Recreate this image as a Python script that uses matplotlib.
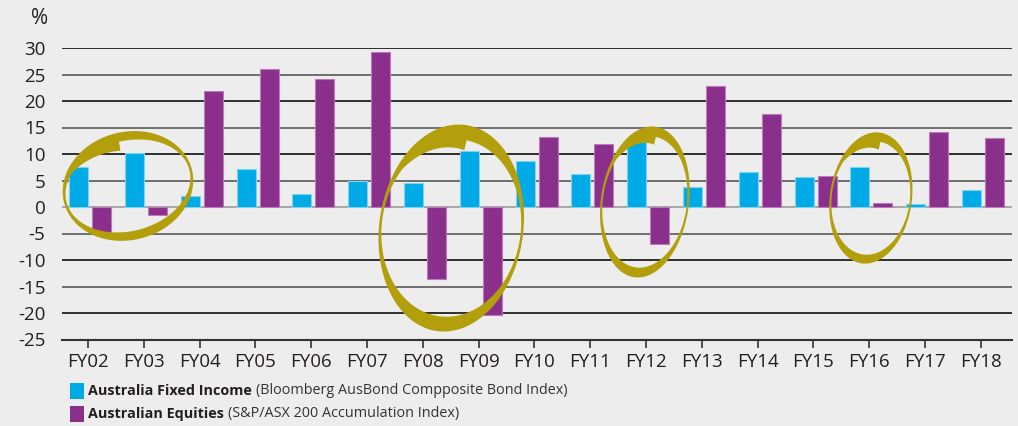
import numpy as np
import matplotlib
matplotlib.use('Agg')
import matplotlib.pyplot as plt
from matplotlib.patches import Rectangle, PathPatch
from matplotlib.path import Path
from matplotlib.transforms import IdentityTransform

plt.rcParams['font.family'] = ['Open Sans', 'DejaVu Sans']
plt.rcParams['axes.unicode_minus'] = False

years = ['FY02', 'FY03', 'FY04', 'FY05', 'FY06', 'FY07', 'FY08', 'FY09', 'FY10',
         'FY11', 'FY12', 'FY13', 'FY14', 'FY15', 'FY16', 'FY17', 'FY18']
fixed_income = [7.6, 10.1, 2.1, 7.2, 2.45, 4.95, 4.5, 10.6, 8.6,
                6.2, 12.2, 3.8, 6.6, 5.7, 7.6, 0.6, 3.2]
equities = [-4.7, -1.6, 21.9, 26.1, 24.1, 29.2, -13.5, -20.3, 13.3,
            11.8, -6.9, 22.8, 17.6, 5.8, 0.7, 14.2, 13.1]
yticks = list(range(-25, 31, 5))

legend_bold = ['Australia Fixed Income', 'Australian Equities']
legend_rest = ['(Bloomberg AusBond Compposite Bond Index)', '(S&P/ASX 200 Accumulation Index)']

blue = '#00aae6'
purple = '#8b2f8d'
gold = '#b39f0c'
bg = '#ededed'
txt = '#231f20'

W, H = 1018, 426
fig = plt.figure(figsize=(W / 100, H / 100), dpi=100, facecolor=bg)
ax = fig.add_axes([62 / W, 1 - 339.5 / H, 950 / W, 291.5 / H])
ax.set_facecolor(bg)

x = np.arange(len(years))
ax.bar(x - 0.165, fixed_income, 0.34, color=blue, edgecolor='#7fd3f2', linewidth=0.8, zorder=3)
ax.bar(x + 0.245, equities, 0.34, color=purple, edgecolor='#b77bb8', linewidth=0.8, zorder=3)

ax.set_xlim(-0.466, 16.56)
ax.set_ylim(-25, 30)
for v in yticks:
    if v == -25:
        continue
    if v == 0:
        c = '#a8a8a8'
    elif v % 10 == 0:
        c = '#2e2e2e'
    else:
        c = '#6e6e6e'
    ax.axhline(v, color=c, lw=1.4, zorder=1)

for s in ['top', 'left', 'right']:
    ax.spines[s].set_visible(False)
ax.spines['bottom'].set_color('#333333')
ax.spines['bottom'].set_linewidth(1.5)

ax.set_yticks(yticks)
ax.set_yticklabels([str(v) for v in yticks])
ax.set_xticks(x)
ax.set_xticklabels(years)
ax.tick_params(axis='y', length=0, pad=12, labelsize=13.5, labelcolor=txt)
ax.tick_params(axis='x', length=6, width=1.2, color='#333333', pad=4, labelsize=13.5, labelcolor=txt)

fig.text(40 / W, 1 - 19 / H, '%', ha='center', va='center', fontsize=15, color=txt)


def brush_ellipse(cx, cy, a, b, ang, wt, ws, tab):
    # hand-drawn looking ring: thick top/bottom, thin sides, brush start at top-left
    px, py = ax.transData.transform((cx, cy))
    t = np.linspace(0, 2 * np.pi, 721)
    deg = np.degrees(t)
    extra = np.where((deg >= 88) & (deg <= 145), tab * (145 - deg) / 57, 0)
    ox, oy = a * np.cos(t), b * np.sin(t)
    ix = (a - ws - extra) * np.cos(t)
    iy = (b - wt - extra) * np.sin(t)
    r = np.radians(ang)
    def rot(u, v):
        return u * np.cos(r) - v * np.sin(r) + px, u * np.sin(r) + v * np.cos(r) + py
    oX, oY = rot(ox, oy)
    iX, iY = rot(ix[::-1], iy[::-1])
    verts = np.concatenate([np.c_[oX, oY], [[oX[0], oY[0]]], np.c_[iX, iY], [[iX[0], iY[0]]]])
    n = len(oX)
    codes = ([Path.MOVETO] + [Path.LINETO] * (n - 1) + [Path.CLOSEPOLY]) * 2
    patch = PathPatch(Path(verts, codes), facecolor=gold, edgecolor='none',
                      transform=IdentityTransform(), zorder=5, clip_on=False)
    fig.add_artist(patch)


brush_ellipse(0.716, 3.97, 66, 54, 15, 9, 2.5, 9)
brush_ellipse(6.51, -3.97, 72, 104, -8, 15, 2.5, 10)
brush_ellipse(9.98, 0.95, 44, 76, -8, 10, 2, 8)
brush_ellipse(14.03, 1.70, 41, 66, -8, 9, 2, 8)

# legend
renderer = fig.canvas.get_renderer()
rows_y = [391, 414]
for i, c in enumerate([blue, purple]):
    fig.add_artist(Rectangle((70 / W, 1 - (rows_y[i] + 8) / H), 14 / W, 16 / H,
                             transform=fig.transFigure, facecolor=c, edgecolor='none'))
    t1 = fig.text(88 / W, 1 - rows_y[i] / H, legend_bold[i], fontweight='bold',
                  va='center', ha='left', fontsize=10.4, color=txt)
    bb = t1.get_window_extent(renderer)
    fig.text((bb.x1 + 4) / W, 1 - rows_y[i] / H, legend_rest[i],
             va='center', ha='left', fontsize=10.4, color='#333333')

fig.savefig('out.png', dpi=100, facecolor=bg)
